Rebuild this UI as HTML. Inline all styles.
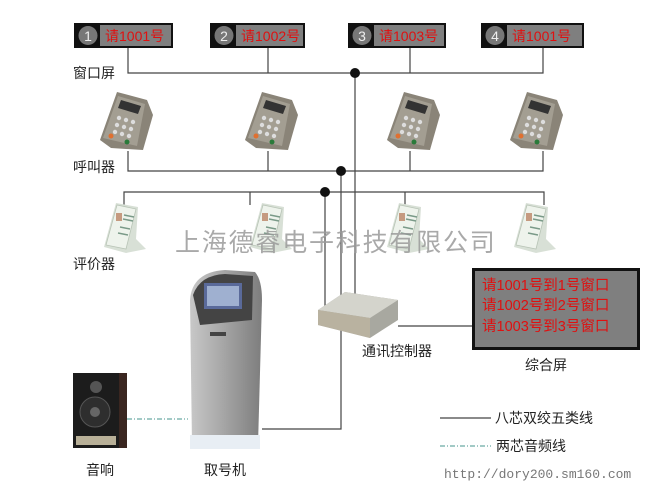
<!DOCTYPE html>
<html><head><meta charset="utf-8"><style>
body{margin:0;background:#fff;width:672px;height:487px;overflow:hidden}
svg{display:block}
text{font-family:"Liberation Sans","Noto Sans CJK SC",sans-serif}
</style></head><body>
<svg width="672" height="487" viewBox="0 0 672 487">
<defs>
<linearGradient id="kg" x1="0" x2="1"><stop offset="0" stop-color="#c8c8c8"/><stop offset="0.5" stop-color="#a3a3a3"/><stop offset="1" stop-color="#7d7d7d"/></linearGradient>
<g id="caller">
<path d="M-25,20 L-8,-28 L22,-20 L28,-5 L18,30 L-14,28 Z" fill="#8a8478"/>
<path d="M-22,18 L-7,-24 L20,-16 L12,26 Z" fill="#a39e92"/>
<path d="M-4,-20 L16,-14 L13,-6 L-7,-12 Z" fill="#333"/>
<g fill="#ddd"><circle cx="-6" cy="-2" r="2.2"/><circle cx="1" cy="0" r="2.2"/><circle cx="8" cy="2" r="2.2"/><circle cx="-8" cy="5" r="2.2"/><circle cx="-1" cy="7" r="2.2"/><circle cx="6" cy="9" r="2.2"/><circle cx="-10" cy="12" r="2.2"/><circle cx="-3" cy="14" r="2.2"/><circle cx="4" cy="16" r="2.2"/></g>
<circle cx="-14" cy="16" r="2.5" fill="#e07030"/><circle cx="2" cy="22" r="2.5" fill="#2a7a3a"/>
</g>
<g id="eval">
<path d="M-18,22 L-6,-22 L16,-18 L14,14 L24,24 L4,28 Z" fill="#d8e0d6"/>
<path d="M-16,20 L-5,-20 L14,-16 L4,24 Z" fill="#eef3ec" stroke="#b8c4b6" stroke-width="0.8"/>
<rect x="-6" y="-12" width="6" height="8" fill="#c59a80"/>
<path d="M2,-10 L12,-8 M1,-6 L11,-4 M-2,2 L8,4 M-4,8 L6,10" stroke="#7a9a88" stroke-width="1.5"/>
</g>
</defs>

<g>
<rect x="74" y="23" width="99" height="25" fill="#111"/><rect x="100" y="25" width="71" height="21" fill="#7f7f7f"/><circle cx="88" cy="35.5" r="9.5" fill="#777"/><text x="88" y="41" font-size="14" fill="#eee" text-anchor="middle">1</text><text x="105" y="41" font-size="14" fill="#e01010">请1001号</text>
<rect x="210" y="23" width="95" height="25" fill="#111"/><rect x="236" y="25" width="67" height="21" fill="#7f7f7f"/><circle cx="224" cy="35.5" r="9.5" fill="#777"/><text x="224" y="41" font-size="14" fill="#eee" text-anchor="middle">2</text><text x="241" y="41" font-size="14" fill="#e01010">请1002号</text>
<rect x="348" y="23" width="98" height="25" fill="#111"/><rect x="374" y="25" width="70" height="21" fill="#7f7f7f"/><circle cx="362" cy="35.5" r="9.5" fill="#777"/><text x="362" y="41" font-size="14" fill="#eee" text-anchor="middle">3</text><text x="379" y="41" font-size="14" fill="#e01010">请1003号</text>
<rect x="481" y="23" width="103" height="25" fill="#111"/><rect x="507" y="25" width="75" height="21" fill="#7f7f7f"/><circle cx="495" cy="35.5" r="9.5" fill="#777"/><text x="495" y="41" font-size="14" fill="#eee" text-anchor="middle">4</text><text x="512" y="41" font-size="14" fill="#e01010">请1001号</text>
</g>

<g stroke="#444" stroke-width="1.2" fill="none">
<path d="M128,48 V73 H543 V48 M268,48 V73 M410,48 V73"/>
<path d="M355,73 V300"/>
<path d="M128,151 V171 H543 V151 M268,151 V171 M410,151 V171"/>
<path d="M124,205 V192 H544 V205 M250,205 V192 M405,205 V192"/>
<path d="M325,192 V308"/>
<path d="M341,171 V429 H262"/>
<path d="M398,326 H472"/>
</g>
<circle cx="355" cy="73" r="5" fill="#111"/>
<circle cx="341" cy="171" r="5" fill="#111"/>
<circle cx="325" cy="192" r="5" fill="#111"/>

<text x="73" y="78" font-size="14" fill="#222">窗口屏</text>
<text x="73" y="172" font-size="14" fill="#222">呼叫器</text>
<text x="73" y="269" font-size="14" fill="#222">评价器</text>

<use href="#caller" x="125" y="120"/><use href="#caller" x="270" y="120"/><use href="#caller" x="412" y="120"/><use href="#caller" x="535" y="120"/>
<use href="#eval" x="122" y="225"/><use href="#eval" x="268" y="225"/><use href="#eval" x="405" y="225"/><use href="#eval" x="532" y="225"/>

<text x="175" y="251" font-size="25" fill="#9a9a9a" fill-opacity="0.85" letter-spacing="1.8">上海德睿电子科技有限公司</text>

<path d="M190,300 Q192,272 225,270 L255,272 Q262,280 262,300 L258,445 L192,445 Z" fill="url(#kg)"/>
<path d="M193,295 Q200,275 225,274 L253,276 L252,320 L200,325 Z" fill="#444"/>
<rect x="204" y="283" width="38" height="26" fill="#5a6a9a"/>
<rect x="207" y="286" width="32" height="20" fill="#9fb0d0"/>
<rect x="210" y="332" width="16" height="4" fill="#444"/>
<rect x="190" y="435" width="70" height="14" fill="#e8eef4"/>

<path d="M318,310 L345,292 L398,300 L398,320 L370,338 L318,325 Z" fill="#a8a8a0"/>
<path d="M318,310 L345,292 L398,300 L370,318 Z" fill="#d4d4cc"/>
<path d="M318,310 L370,318 L370,338 L318,325 Z" fill="#b9b2a0"/>
<text x="362" y="356" font-size="14" fill="#222">通讯控制器</text>

<rect x="472" y="268" width="168" height="82" fill="#111"/>
<rect x="475" y="271" width="162" height="76" fill="#7f7f7f"/>
<g font-size="14.5" fill="#e01010"><text x="482" y="290">请1001号到1号窗口</text><text x="482" y="310">请1002号到2号窗口</text><text x="482" y="331">请1003号到3号窗口</text></g>
<text x="525" y="370" font-size="14" fill="#222">综合屏</text>

<rect x="73" y="373" width="54" height="75" fill="#3a2620"/>
<rect x="73" y="373" width="46" height="75" fill="#1c1c1c"/>
<circle cx="96" cy="387" r="6" fill="#555"/>
<circle cx="95" cy="412" r="15" fill="#2e2e2e" stroke="#555"/>
<circle cx="95" cy="412" r="5" fill="#666"/>
<rect x="76" y="436" width="40" height="9" fill="#b8b098"/>
<path d="M127,419 H188" stroke="#6aaaa4" stroke-width="1.2" stroke-dasharray="5,2,1,2"/>
<text x="86" y="475" font-size="14" fill="#222">音响</text>
<text x="204" y="475" font-size="14" fill="#222">取号机</text>

<path d="M440,418 H491" stroke="#444" stroke-width="1.2"/>
<text x="495" y="423" font-size="14" fill="#222">八芯双绞五类线</text>
<path d="M440,446 H491" stroke="#6aaaa4" stroke-width="1.2" stroke-dasharray="5,2,1,2"/>
<text x="496" y="451" font-size="14" fill="#222">两芯音频线</text>
<text x="444" y="478" font-size="13" fill="#777" style="font-family:'Liberation Mono',monospace">http://dory200.sm160.com</text>
</svg>
</body></html>
